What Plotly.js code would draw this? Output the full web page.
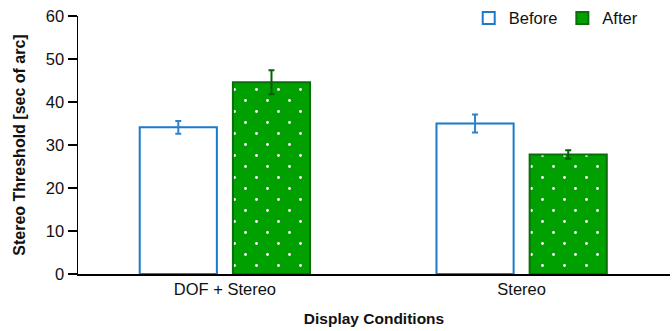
<!DOCTYPE html>
<html>
<head>
<meta charset="utf-8">
<script src="https://cdn.plot.ly/plotly-3.0.1.min.js"></script>
<style>html,body{margin:0;padding:0;background:#fff;}#chart{width:672px;height:331px;}</style>
</head>
<body>
<div id="chart"></div>
<script>
const categories = ["DOF + Stereo", "Stereo"];
const beforeValues = [34.1, 35.0];
const beforeErrors = [1.5, 2.1];
const afterValues = [44.6, 27.8];
const afterErrors = [2.8, 1.0];
const yTicks = [0, 10, 20, 30, 40, 50, 60];

const font = "Liberation Sans, Arial, sans-serif";

const traces = [
  {
    type: "bar", name: "Before", x: categories, y: beforeValues,
    marker: { color: "rgba(255,255,255,1)", line: { color: "#1a7acc", width: 2 } },
    error_y: { type: "data", array: beforeErrors, visible: true, color: "#2a84d0", thickness: 2, width: 3 }
  },
  {
    type: "bar", name: "After", x: categories, y: afterValues,
    marker: {
      color: "#00a000",
      line: { color: "#0a6e0a", width: 2 },
      pattern: { shape: ".", fgcolor: "#ffffff", bgcolor: "#00a000", size: 22, solidity: 0.02, fillmode: "replace" }
    },
    error_y: { type: "data", array: afterErrors, visible: true, color: "#0a5e0a", thickness: 2, width: 3 }
  }
];

const layout = {
  width: 672, height: 331,
  margin: { l: 78, r: 2, t: 15, b: 57 },
  paper_bgcolor: "#fff", plot_bgcolor: "#fff",
  font: { family: font, size: 16.5, color: "#111" },
  barmode: "group", bargap: 0.372, bargroupgap: 0.172,
  showlegend: true,
  legend: { orientation: "h", x: 0.66, y: 1.055, xanchor: "left", yanchor: "top", font: { size: 16.5 }, traceorder: "normal", bgcolor: "rgba(0,0,0,0)", itemwidth: 30 },
  xaxis: {
    range: [-0.495, 1.5], showline: true, linecolor: "#000", linewidth: 1.5,
    ticks: "", showgrid: false, zeroline: false,
    tickfont: { size: 16.5 },
    title: { text: "<b>Display Conditions</b>", font: { size: 15.5 }, standoff: 16 }
  },
  yaxis: {
    range: [0, 60], tickvals: yTicks, ticktext: yTicks.map(String),
    showline: true, linecolor: "#000", linewidth: 1.5,
    ticks: "outside", ticklen: 9, tickcolor: "#000", tickwidth: 1.5,
    showgrid: false, zeroline: false, tickfont: { size: 16.5 },
    title: { text: "<b>Stereo Threshold [sec of arc]</b>", font: { size: 16 }, standoff: 16 }
  }
};

function staggerDots() {
  const NS = "http://www.w3.org/2000/svg";
  document.querySelectorAll("#chart defs pattern").forEach(p => {
    const w = 22;
    p.setAttribute("width", w);
    p.setAttribute("height", w);
    while (p.firstChild) p.removeChild(p.firstChild);
    const bg = document.createElementNS(NS, "rect");
    bg.setAttribute("width", w); bg.setAttribute("height", w);
    bg.setAttribute("fill", "#00a000");
    p.appendChild(bg);
    [[2.5, 7.5], [13.5, 18.5]].forEach(([cx, cy]) => {
      const c = document.createElementNS(NS, "circle");
      c.setAttribute("cx", cx); c.setAttribute("cy", cy); c.setAttribute("r", 1.4);
      c.setAttribute("fill", "#ffffff");
      p.appendChild(c);
    });
  });
}

Plotly.newPlot("chart", traces, layout, { displayModeBar: false, staticPlot: true }).then(staggerDots);
</script>
</body>
</html>
